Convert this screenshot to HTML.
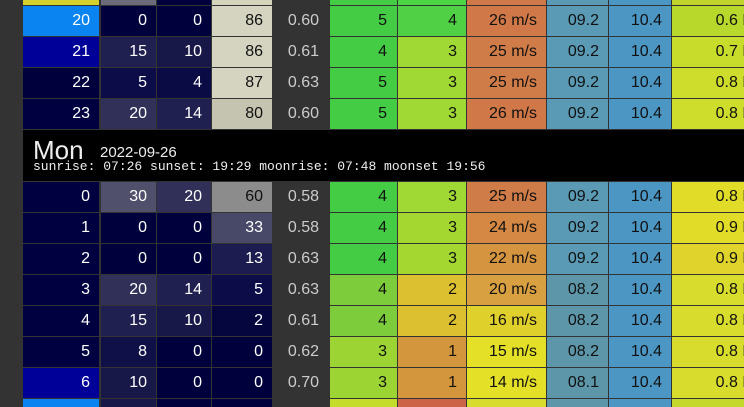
<!DOCTYPE html><html style="width:744px;height:407px;overflow:hidden"><head><style>
body{margin:0;width:744px;height:407px;background:#333;overflow:hidden;position:relative;font-family:"Liberation Sans","DejaVu Sans",sans-serif}
.c{position:absolute;height:30px;line-height:30px;font-size:16px;text-align:right;box-sizing:border-box;padding-right:9px;white-space:nowrap;overflow:hidden}
#hd{position:absolute;left:23px;top:130px;width:721px;height:51px;background:#000;color:#eee}
</style></head><body>
<div id="hd">
<div style="position:absolute;left:10px;top:5px;font-size:26px">Mon</div>
<div style="position:absolute;left:77px;top:14px;font-size:15px">2022-09-26</div>
<div style="position:absolute;left:10px;top:29px;font-family:'Liberation Mono',monospace;font-size:13px">sunrise: 07:26 sunset: 19:29 moonrise: 07:48 moonset 19:56</div>
</div>
<script>
const X=[[23,76],[101,55],[157,54],[212,60],[272,58],[330,67],[398,68],[467,79],[547,61],[609,62],[672,90]];
const rows=[
[-25,['#d4d02c','#6b6b7a','#00003c','#d4d4bc',null,'#44cc44','#4cd444','#d07848','#5a9ab4','#4c96c4','#c0d42c'],['','','','','','','','','','','']],
[6,['#0a84f0','#00003c','#00003c','#d4d4c0',null,'#44cc44','#50d044','#d07848','#5a9ab4','#4c96c4','#b8d82c'],['20','0','0','86','0.60','5','4','26 m/s','09.2','10.4','0.6 K']],
[37,['#000099','#202050','#181848','#d4d4c0',null,'#44cc44','#a0d834','#d07c48','#5a9ab4','#4c96c4','#c8dc2c'],['21','15','10','86','0.61','4','3','25 m/s','09.2','10.4','0.7 K']],
[68,['#00003c','#0c0c48','#0a0a44','#d4d4c0',null,'#44cc44','#a0d834','#d07c48','#5a9ab4','#4c96c4','#cedc2c'],['22','5','4','87','0.63','5','3','25 m/s','09.2','10.4','0.8 K']],
[99,['#000040','#303058','#202050','#c4c4b0',null,'#44cc44','#a0d834','#d07848','#5a9ab4','#4c96c4','#cedc2c'],['23','20','14','80','0.60','5','3','26 m/s','09.2','10.4','0.8 K']],
[182,['#000040','#50506c','#303058','#8c8c8c',null,'#44cc44','#a0d834','#d07c48','#5a9ab4','#4c96c4','#e0dc28'],['0','30','20','60','0.58','4','3','25 m/s','09.2','10.4','0.8 K']],
[213,['#000040','#00003c','#00003c','#484868',null,'#44cc44','#a4d830','#d48844','#5a9ab4','#4c96c4','#e0dc28'],['1','0','0','33','0.58','4','3','24 m/s','09.2','10.4','0.9 K']],
[244,['#000040','#00003c','#00003c','#1c1c50',null,'#44cc44','#a4d830','#d49440','#5a9ab4','#4c96c4','#e0d42c'],['2','0','0','13','0.63','4','3','22 m/s','09.2','10.4','0.9 K']],
[275,['#000040','#303058','#202050','#0c0c48',null,'#7ccc3c','#dcc030','#d8a040','#5c96a8','#4c96c4','#d8dc2c'],['3','20','14','5','0.63','4','2','20 m/s','08.2','10.4','0.8 K']],
[306,['#000040','#202050','#181848','#06063f',null,'#7ccc3c','#dcc030','#e0d02c','#5c96a8','#4c96c4','#d8dc2c'],['4','15','10','2','0.61','4','2','16 m/s','08.2','10.4','0.8 K']],
[337,['#000040','#101048','#00003c','#00003c',null,'#9cd434','#d4963c','#e4e028','#5c96a8','#4c96c4','#d8dc2c'],['5','8','0','0','0.62','3','1','15 m/s','08.2','10.4','0.8 K']],
[368,['#000099','#181848','#00003c','#00003c',null,'#9cd434','#d4963c','#e4e028','#5c96a8','#4c96c4','#d8dc2c'],['6','10','0','0','0.70','3','1','14 m/s','08.1','10.4','0.8 K']],
[399,['#0a84f0','#181848','#00003c','#00003c',null,'#c4dc2c','#cc6448','#d8dc2c','#5c96a8','#4c96c4','#c4d82c'],['','','','','','','','','','','']]
];
function lum(h){const n=parseInt(h.slice(1),16);return 0.3*(n>>16)+0.59*((n>>8)&255)+0.11*(n&255);}
let s='';
for(const [y,cols,t] of rows){X.forEach(([x,w],i)=>{const bg=cols[i];let col=bg?(lum(bg)>110?'#111':'#fff'):'#ccc';let pr=i==4?11:(i==5?10:9);
const h=y>=399?8:30;
s+=`<div class="c" style="left:${x}px;top:${y}px;width:${w}px;height:${h}px;${bg?'background:'+bg+';':''}color:${col};padding-right:${pr}px">${t[i]}</div>`;});}
document.body.insertAdjacentHTML('beforeend',s);
</script>
</body></html>
